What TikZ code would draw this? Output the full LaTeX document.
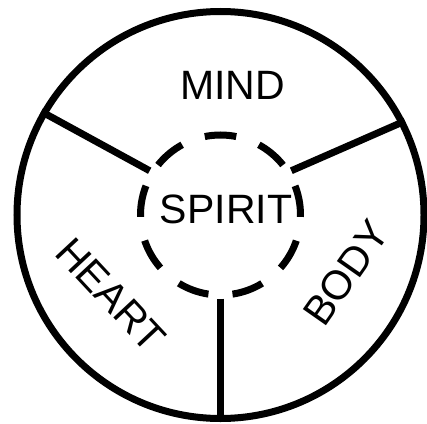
\documentclass[tikz,border=0pt]{standalone}
\usepackage{fontspec}
\setmainfont{Liberation Sans}
\usetikzlibrary{positioning}
\tikzset{
  every picture/.style={line width=7pt},
  ring/.style={circle, draw, minimum size=407pt, inner sep=0pt},
  hubring/.style={circle, draw, minimum size=160pt, inner sep=0pt, dash pattern=on 31.7pt off 24.15pt, dash phase=1.9pt},
  part/.style={font=\fontsize{41}{48}\selectfont, inner sep=0pt},
}
\begin{document}
\begin{tikzpicture}[x=1pt, y=1pt]
  \useasboundingbox (-220.5,-208) rectangle (206.5,215);
  % wheel and hub
  \node[ring] (rim) at (0,0) {};
  \node[hubring] (hub) at (0,0) {};
  % spokes
  \draw (hub.32) -- (rim.27);
  \draw (hub.148) -- (rim.150);
  \draw (hub.270) -- (rim.270);
  % words
  \node[part] (spirit) at (5.5,6) {SPIRIT};
  \node[part] (mind) at (12,129.5) {MIND};
  \node[part, rotate=-47] (heart) at (-109.5,-80) {HEART};
  \node[part, rotate=55] (body) at (125.5,-58) {BODY};
\end{tikzpicture}
\end{document}
